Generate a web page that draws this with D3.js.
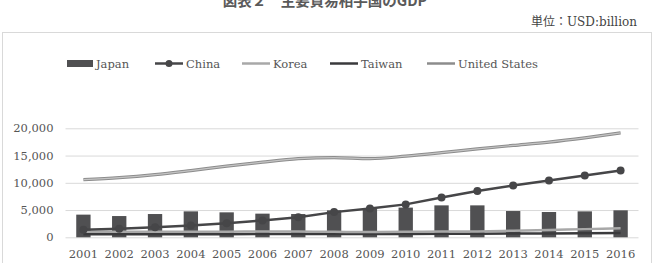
<!DOCTYPE html>
<html>
<head>
<meta charset="utf-8">
<script src="https://cdn.jsdelivr.net/npm/d3@7"></script>
<style>
  body { margin: 0; background: #fff; }
  svg text { font-family: "DejaVu Serif", "Liberation Serif", serif; }
</style>
</head>
<body>
<div id="chart"></div>
<script>
var years = ["2001", "2002", "2003", "2004", "2005", "2006", "2007", "2008",
             "2009", "2010", "2011", "2012", "2013", "2014", "2015", "2016"];

var japan = [4160, 3900, 4270, 4760, 4580, 4340, 4270, 4950, 5250, 5450, 5860, 5860, 4820, 4640, 4760, 4950];
var china = [1380, 1560, 1850, 2180, 2600, 3100, 3700, 4620, 5300, 6040, 7300, 8480, 9520, 10440, 11350, 12250];
var korea = [1000, 1000, 1000, 1020, 1040, 1060, 1080, 1000, 950, 1000, 1050, 1080, 1200, 1350, 1500, 1650];
var taiwan = [550, 550, 560, 570, 580, 590, 600, 600, 590, 620, 640, 650, 680, 720, 750, 780];
var usa = [10580, 10940, 11500, 12250, 13060, 13800, 14420, 14620, 14420, 14880, 15520, 16230, 16850, 17470, 18250, 19150];

var yTicks = [0, 5000, 10000, 15000, 20000];
var seriesNames = ["Japan", "China", "Korea", "Taiwan", "United States"];

var W = 661, H = 263;
var plotLeft = 65.5, plotRight = 638.5, plotTop = 128.3, plotBottom = 237.3;

var svg = d3.select("#chart").append("svg")
  .attr("width", W)
  .attr("height", H);

// outer frame (runs off the bottom edge)
svg.append("rect")
  .attr("x", 2.5).attr("y", 32.5)
  .attr("width", 649).attr("height", 260)
  .attr("fill", "none")
  .attr("stroke", "#d9d9d9");

// title, cut off at top
svg.append("text")
  .attr("x", 325).attr("y", 6)
  .attr("text-anchor", "middle")
  .attr("font-size", "14.5px")
  .attr("font-weight", "bold")
  .attr("fill", "#5a5a5a")
  .style("font-family", "'Noto Sans CJK JP', sans-serif")
  .text("図表２　主要貿易相手国のGDP");

svg.append("text")
  .attr("x", 637).attr("y", 26)
  .attr("text-anchor", "end")
  .attr("font-size", "12px")
  .attr("fill", "#444")
  .style("font-family", "'DejaVu Serif', 'Noto Sans CJK JP', serif")
  .text("単位：USD:billion");

var x = d3.scaleBand()
  .domain(years)
  .range([plotLeft, plotRight])
  .paddingInner(0.6)
  .paddingOuter(0.3);

var xc = function(d, i) { return x(years[i]) + x.bandwidth() / 2; };

var y = d3.scaleLinear()
  .domain([0, 20000])
  .range([plotBottom, plotTop]);

// gridlines + y labels
var yAxis = d3.axisLeft(y)
  .tickValues(yTicks)
  .tickSize(-(plotRight - plotLeft))
  .tickPadding(12)
  .tickFormat(d3.format(","));

var yg = svg.append("g")
  .attr("transform", "translate(" + plotLeft + ",0)")
  .call(yAxis);
yg.select(".domain").remove();
yg.selectAll(".tick line").attr("stroke", "#d9d9d9");
yg.selectAll(".tick text")
  .attr("font-size", "11.5px")
  .attr("fill", "#555")
  .style("font-family", "'DejaVu Serif', serif");

// x labels
var xAxis = d3.axisBottom(x).tickSize(0).tickPadding(0);
var xg = svg.append("g")
  .attr("transform", "translate(0," + plotBottom + ")")
  .call(xAxis);
xg.select(".domain").remove();
xg.selectAll(".tick text")
  .attr("y", 21)
  .attr("dy", 0)
  .attr("font-size", "11.5px")
  .attr("fill", "#555")
  .style("font-family", "'DejaVu Serif', serif");

// Japan bars
svg.selectAll("rect.japan")
  .data(japan)
  .enter()
  .append("rect")
  .attr("class", "japan")
  .attr("x", function(d, i) { return x(years[i]); })
  .attr("y", function(d) { return y(d); })
  .attr("width", x.bandwidth())
  .attr("height", function(d) { return plotBottom - y(d); })
  .attr("fill", "#505052");

var line = d3.line()
  .x(xc)
  .y(function(d) { return y(d); });

var smooth = d3.line()
  .x(xc)
  .y(function(d) { return y(d); })
  .curve(d3.curveMonotoneX);

// Taiwan
svg.append("path").datum(taiwan)
  .attr("d", line)
  .attr("fill", "none")
  .attr("stroke", "#3a3a3c")
  .attr("stroke-width", 2.5);

// Korea
svg.append("path").datum(korea)
  .attr("d", smooth)
  .attr("fill", "none")
  .attr("stroke", "#a8a8a8")
  .attr("stroke-width", 2.5);

// United States (double-edged line)
svg.append("path").datum(usa)
  .attr("d", smooth)
  .attr("fill", "none")
  .attr("stroke", "#8c8c8c")
  .attr("stroke-width", 3.2);
svg.append("path").datum(usa)
  .attr("d", smooth)
  .attr("fill", "none")
  .attr("stroke", "#c4c4c4")
  .attr("stroke-width", 1.2);

// China
svg.append("path").datum(china)
  .attr("d", line)
  .attr("fill", "none")
  .attr("stroke", "#464648")
  .attr("stroke-width", 2.5);
svg.selectAll("circle.china")
  .data(china)
  .enter()
  .append("circle")
  .attr("class", "china")
  .attr("cx", xc)
  .attr("cy", function(d) { return y(d); })
  .attr("r", 4)
  .attr("fill", "#464648");

// Legend
var legendX = [67, 155, 242, 330, 427];
var legendY = 63.5;
var lg = svg.selectAll(".legend")
  .data(seriesNames)
  .enter()
  .append("g")
  .attr("class", "legend")
  .attr("transform", function(d, i) { return "translate(" + legendX[i] + "," + legendY + ")"; });

lg.each(function(d) {
  var g = d3.select(this);
  if (d === "Japan") {
    g.append("rect").attr("x", 0).attr("y", -3.5).attr("width", 26).attr("height", 7).attr("fill", "#505052");
  } else {
    var c = { "China": "#464648", "Korea": "#a8a8a8", "Taiwan": "#3a3a3c", "United States": "#8c8c8c" }[d];
    g.append("line").attr("x1", 0).attr("x2", 28).attr("y1", 0).attr("y2", 0)
      .attr("stroke", c).attr("stroke-width", 2.5);
    if (d === "China") {
      g.append("circle").attr("cx", 14).attr("cy", 0).attr("r", 3.5).attr("fill", c);
    }
  }
});

lg.append("text")
  .attr("x", function(d) { return d === "Japan" ? 29 : 31; })
  .attr("y", 0)
  .attr("dy", "0.35em")
  .attr("font-size", "11.5px")
  .attr("fill", "#555")
  .text(function(d) { return d; });
</script>
</body>
</html>
